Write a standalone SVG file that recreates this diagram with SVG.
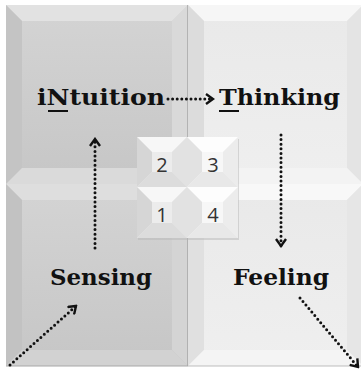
<svg xmlns="http://www.w3.org/2000/svg" width="361" height="370" viewBox="0 0 361 370">
<defs>
<style>
.lbl{font-family:"DejaVu Serif","Liberation Serif",serif;font-weight:bold;font-size:23px;fill:#111}
.num{font-family:"Open Sans","Liberation Sans",sans-serif;font-size:20px;fill:#333;text-anchor:middle}
.dot{fill:none;stroke:#111;stroke-width:3;stroke-linecap:round;stroke-dasharray:0 4.6}
.ul{stroke:#111;stroke-width:2}
</style>
<marker id="chev" viewBox="0 0 10 12" refX="8" refY="6" markerWidth="10" markerHeight="12" markerUnits="userSpaceOnUse" orient="auto">
<path d="M1,1 L8,6 L1,11" fill="none" stroke="#111" stroke-width="2.4"/>
</marker>
<linearGradient id="gL" x1="0" y1="0" x2="0" y2="1"><stop offset="0" stop-color="#d4d4d4"/><stop offset="1" stop-color="#c6c6c6"/></linearGradient>
<linearGradient id="gR" x1="0" y1="0" x2="0" y2="1"><stop offset="0" stop-color="#e9e9e9"/><stop offset="1" stop-color="#efefef"/></linearGradient>
</defs>
<rect width="361" height="370" fill="#ffffff"/>

<g id="tile-intuition">
<rect x="6" y="5" width="182" height="179" fill="url(#gL)"/>
<polygon points="6,5 188,5 172,21 22,21" fill="#e2e2e2"/>
<polygon points="6,5 22,21 22,168 6,184" fill="#c4c4c4"/>
<polygon points="188,5 188,184 172,168 172,21" fill="#d9d9d9"/>
<polygon points="6,184 188,184 172,168 22,168" fill="#dadada"/>
<line x1="188" y1="5" x2="188" y2="184" stroke="#9a9a9a" stroke-width="1.2"/>
</g>
<g id="tile-thinking">
<rect x="188" y="5" width="175" height="179" fill="url(#gR)"/>
<polygon points="188,5 363,5 347,21 204,21" fill="#f6f6f6"/>
<polygon points="188,5 204,21 204,168 188,184" fill="#dcdcdc"/>
<polygon points="363,5 363,184 347,168 347,21" fill="#e4e4e4"/>
<polygon points="188,184 363,184 347,168 204,168" fill="#f3f3f3"/>
</g>
<g id="tile-sensing">
<rect x="6" y="184" width="182" height="182" fill="url(#gL)"/>
<polygon points="6,184 188,184 172,200 22,200" fill="#dedede"/>
<polygon points="6,184 22,200 22,350 6,366" fill="#c2c2c2"/>
<polygon points="188,184 188,366 172,350 172,200" fill="#d4d4d4"/>
<polygon points="6,366 188,366 172,350 22,350" fill="#d2d2d2"/>
<line x1="188" y1="184" x2="188" y2="366" stroke="#9a9a9a" stroke-width="1.2"/>
<line x1="6" y1="366" x2="188" y2="366" stroke="#a8a8a8" stroke-width="1"/>
</g>
<g id="tile-feeling">
<rect x="188" y="184" width="175" height="182" fill="url(#gR)"/>
<polygon points="188,184 363,184 347,200 204,200" fill="#f8f8f8"/>
<polygon points="188,184 204,200 204,350 188,366" fill="#e0e0e0"/>
<polygon points="363,184 363,366 347,350 347,200" fill="#e6e6e6"/>
<polygon points="188,366 363,366 347,350 204,350" fill="#f4f4f4"/>
<line x1="188" y1="366" x2="363" y2="366" stroke="#bdbdbd" stroke-width="1"/>
</g>

<g id="small-tiles">
<rect x="138" y="139" width="101" height="101" fill="#b8b8b8" opacity="0.5"/>
<g id="tile-2">
<rect x="137" y="137" width="50" height="50" fill="#ececec"/>
<polygon points="137,137 187,137 172,152 152,152" fill="#f7f7f7"/>
<polygon points="137,137 152,152 152,172 137,187" fill="#d6d6d6"/>
<polygon points="187,137 187,187 172,172 172,152" fill="#e2e2e2"/>
<polygon points="137,187 187,187 172,172 152,172" fill="#dcdcdc"/>
<text x="162" y="172" class="num">2</text>
</g>
<g id="tile-3">
<rect x="187" y="137" width="51" height="50" fill="#f7f7f7"/>
<polygon points="187,137 238,137 223,152 202,152" fill="#fdfdfd"/>
<polygon points="187,137 202,152 202,172 187,187" fill="#e2e2e2"/>
<polygon points="238,137 238,187 223,172 223,152" fill="#ececec"/>
<polygon points="187,187 238,187 223,172 202,172" fill="#e8e8e8"/>
<text x="213" y="172" class="num">3</text>
</g>
<g id="tile-1">
<rect x="137" y="187" width="50" height="51" fill="#ececec"/>
<polygon points="137,187 187,187 172,202 152,202" fill="#f7f7f7"/>
<polygon points="137,187 152,202 152,223 137,238" fill="#d6d6d6"/>
<polygon points="187,187 187,238 172,223 172,202" fill="#e2e2e2"/>
<polygon points="137,238 187,238 172,223 152,223" fill="#dcdcdc"/>
<text x="162" y="222" class="num">1</text>
</g>
<g id="tile-4">
<rect x="187" y="187" width="51" height="51" fill="#f7f7f7"/>
<polygon points="187,187 238,187 223,202 202,202" fill="#fdfdfd"/>
<polygon points="187,187 202,202 202,223 187,238" fill="#e2e2e2"/>
<polygon points="238,187 238,238 223,223 223,202" fill="#ececec"/>
<polygon points="187,238 238,238 223,223 202,223" fill="#e8e8e8"/>
<text x="213" y="222" class="num">4</text>
</g>
</g>

<g id="label-intuition">
<text x="37" y="105" class="lbl" textLength="128" lengthAdjust="spacingAndGlyphs">iNtuition</text>
<line x1="48" y1="111" x2="68" y2="111" class="ul"/>
</g>
<g id="label-thinking">
<text x="219" y="105" class="lbl" textLength="121" lengthAdjust="spacingAndGlyphs">Thinking</text>
<line x1="219" y1="111" x2="239" y2="111" class="ul"/>
</g>
<g id="label-sensing">
<text x="50" y="285" class="lbl" textLength="102" lengthAdjust="spacingAndGlyphs">Sensing</text>
</g>
<g id="label-feeling">
<text x="233" y="285" class="lbl" textLength="96" lengthAdjust="spacingAndGlyphs">Feeling</text>
</g>

<g id="connectors">
<path d="M168,99 L213,99" class="dot" marker-end="url(#chev)"/>
<path d="M95,248 L95,139" class="dot" marker-end="url(#chev)"/>
<path d="M281,135 L281,246" class="dot" marker-end="url(#chev)"/>
<path d="M10,365 L76,306" class="dot" marker-end="url(#chev)"/>
<path d="M300,298 L358,367" class="dot" marker-end="url(#chev)"/>
</g>
</svg>
